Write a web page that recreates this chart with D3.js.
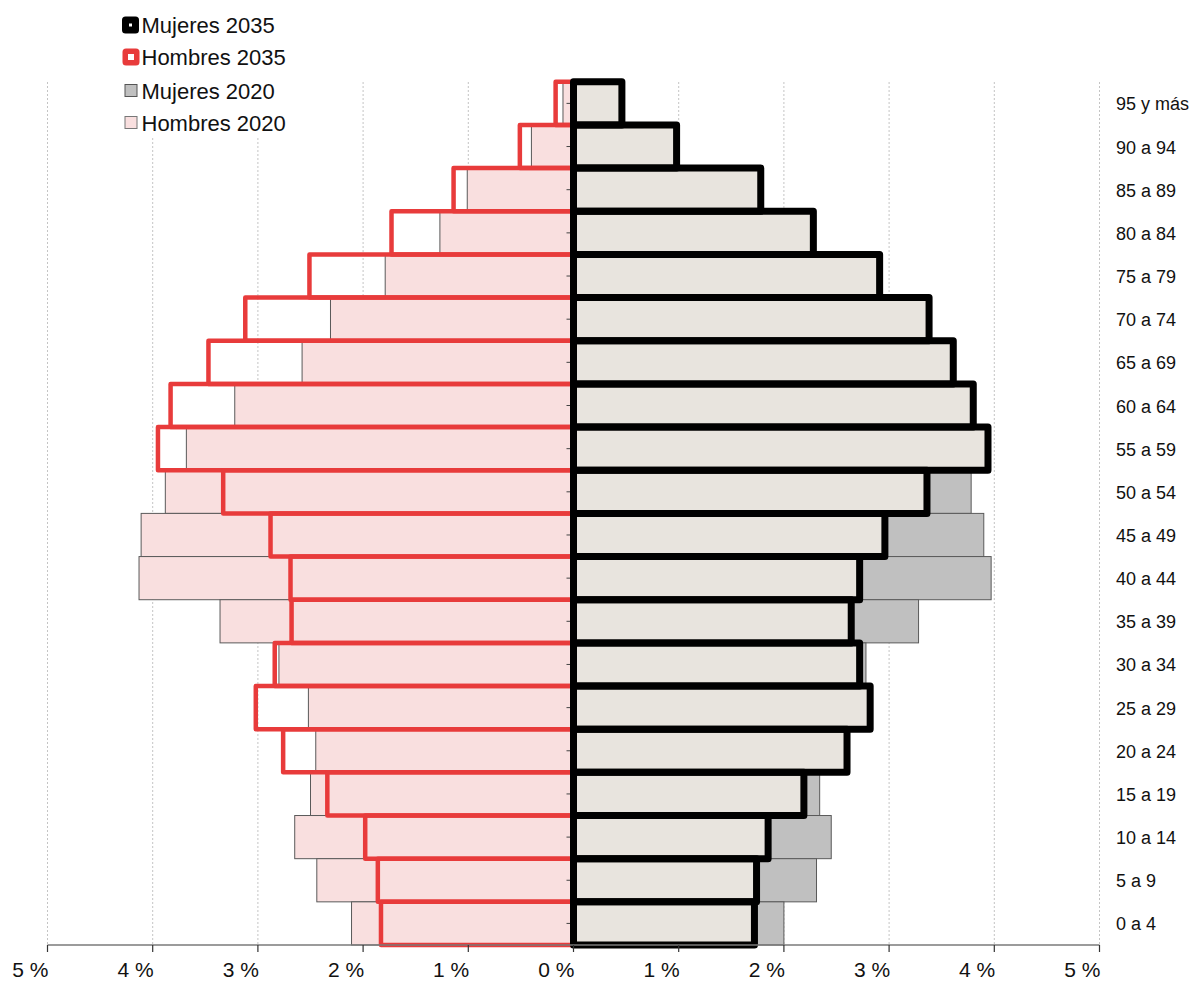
<!DOCTYPE html>
<html>
<head>
<meta charset="utf-8">
<script src="https://cdn.jsdelivr.net/npm/d3@7"></script>
<style>
  html, body { margin: 0; padding: 0; background: #fff; }
  svg { display: block; }
  text { font-family: "Liberation Sans", Arial, Helvetica, sans-serif; }
</style>
</head>
<body>
<svg id="chart" width="1194" height="981"></svg>
<script>
const ages = ["95 y más","90 a 94","85 a 89","80 a 84","75 a 79","70 a 74","65 a 69","60 a 64","55 a 59","50 a 54","45 a 49","40 a 44","35 a 39","30 a 34","25 a 29","20 a 24","15 a 19","10 a 14","5 a 9","0 a 4"];
const hombres2035 = [0.17,0.51,1.14,1.73,2.51,3.12,3.47,3.83,3.95,3.33,2.88,2.69,2.68,2.84,3.02,2.76,2.34,1.98,1.86,1.83];
const hombres2020 = [0.10,0.40,1.01,1.27,1.79,2.31,2.58,3.22,3.68,3.88,4.11,4.13,3.36,2.80,2.52,2.45,2.50,2.65,2.44,2.11];
const mujeres2035 = [0.46,0.98,1.78,2.28,2.91,3.38,3.61,3.80,3.94,3.36,2.96,2.72,2.64,2.72,2.82,2.60,2.19,1.85,1.74,1.72];
const mujeres2020 = [0.30,0.75,1.40,1.85,2.35,2.80,3.05,3.45,3.85,3.78,3.90,3.97,3.28,2.78,2.75,2.55,2.34,2.45,2.31,2.00];
const xTicks = [-5,-4,-3,-2,-1,0,1,2,3,4,5];
const legendLabels = ["Mujeres 2035","Hombres 2035","Mujeres 2020","Hombres 2020"];

const FONT = "'Liberation Sans', Arial, Helvetica, sans-serif";
const svg = d3.select("#chart");
const x = d3.scaleLinear().domain([-5,5]).range([47.5,1099.5]);
const y = d3.scaleBand().domain(ages).range([81.8,945]).padding(0);
const x0 = x(0);

// grid
svg.append("g").selectAll("line").data(xTicks.filter(d => d !== 0)).join("line")
  .attr("x1", d => x(d)).attr("x2", d => x(d))
  .attr("y1", 82).attr("y2", 945)
  .attr("stroke", "#c4c4c4").attr("stroke-width", 1).attr("stroke-dasharray", "2,2");

// Hombres 2020
svg.append("g").selectAll("rect").data(ages).join("rect")
  .attr("x", (d,i) => x(-hombres2020[i])).attr("y", d => y(d))
  .attr("width", (d,i) => x0 - x(-hombres2020[i])).attr("height", y.bandwidth())
  .attr("fill", "#f9dfdf").attr("stroke", "#5a5a5a").attr("stroke-width", 1);

// Mujeres 2020
svg.append("g").selectAll("rect").data(ages).join("rect")
  .attr("x", x0).attr("y", d => y(d))
  .attr("width", (d,i) => x(mujeres2020[i]) - x0).attr("height", y.bandwidth())
  .attr("fill", "#c0c0c0").attr("stroke", "#5a5a5a").attr("stroke-width", 1);

// Hombres 2035 outline
svg.append("g").selectAll("rect").data(ages).join("rect")
  .attr("x", (d,i) => x(-hombres2035[i])).attr("y", d => y(d))
  .attr("width", (d,i) => x0 - x(-hombres2035[i])).attr("height", y.bandwidth())
  .attr("fill", "none").attr("stroke", "#e83b3b").attr("stroke-width", 4.5)
  .attr("stroke-linejoin", "round");

// Mujeres 2035 fills
svg.append("g").selectAll("rect").data(ages).join("rect")
  .attr("x", x0).attr("y", d => y(d))
  .attr("width", (d,i) => x(mujeres2035[i]) - x0).attr("height", y.bandwidth())
  .attr("fill", "#e8e4de");

// small category ticks at centre
svg.append("g").selectAll("line").data(ages).join("line")
  .attr("x1", x0 - 7).attr("x2", x0)
  .attr("y1", d => y(d) + y.bandwidth()/2).attr("y2", d => y(d) + y.bandwidth()/2)
  .attr("stroke", "#444").attr("stroke-width", 1);

// Mujeres 2035 outlines
svg.append("g").selectAll("rect").data(ages).join("rect")
  .attr("x", x0).attr("y", d => y(d))
  .attr("width", (d,i) => x(mujeres2035[i]) - x0).attr("height", y.bandwidth())
  .attr("fill", "none").attr("stroke", "#000").attr("stroke-width", 7)
  .attr("stroke-linejoin", "round");

// x axis
const ax = svg.append("g").attr("transform", "translate(0,945)");
ax.append("line").attr("x1", x(-5)).attr("x2", x(5)).attr("y1", 0).attr("y2", 0)
  .attr("stroke", "#7a7a7a").attr("stroke-width", 1.5);
ax.selectAll("line.t").data(xTicks).join("line").attr("class","t")
  .attr("x1", d => x(d)).attr("x2", d => x(d)).attr("y1", 0).attr("y2", 7)
  .attr("stroke", "#333").attr("stroke-width", 1.2);
ax.selectAll("text").data(xTicks).join("text")
  .attr("x", d => x(d) + 1).attr("y", 32)
  .attr("text-anchor", "end").attr("font-size", 21).attr("fill", "#111")
  .attr("font-family", FONT)
  .text(d => Math.abs(d) + " %");

// y labels
svg.append("g").selectAll("text").data(ages).join("text")
  .attr("x", 1116).attr("y", d => y(d) + y.bandwidth()/2 + 7)
  .attr("font-size", 18).attr("fill", "#111")
  .attr("font-family", FONT)
  .text(d => d);

// legend
const lg = svg.append("g");
lg.append("rect").attr("x", 112).attr("y", 0).attr("width", 195).attr("height", 138).attr("fill", "#fff");
const ly = [25, 57, 90.5, 122.5];
lg.append("rect").attr("x", 122).attr("y", ly[0]-8.5).attr("width", 17).attr("height", 17).attr("rx", 3.5).attr("fill", "#000");
lg.append("rect").attr("x", 129).attr("y", ly[0]-1.5).attr("width", 3).attr("height", 3).attr("fill", "#fff");
lg.append("rect").attr("x", 122.5).attr("y", ly[1]-8.5).attr("width", 17).attr("height", 17).attr("rx", 3.5).attr("fill", "#e83b3b");
lg.append("rect").attr("x", 128).attr("y", ly[1]-3).attr("width", 6).attr("height", 6).attr("fill", "#fff");
lg.append("rect").attr("x", 125).attr("y", ly[2]-6).attr("width", 12).attr("height", 12).attr("fill", "#c0c0c0").attr("stroke", "#555").attr("stroke-width", 1);
lg.append("rect").attr("x", 125).attr("y", ly[3]-6).attr("width", 12).attr("height", 12).attr("fill", "#f9dfdf").attr("stroke", "#777").attr("stroke-width", 1);
lg.selectAll("text").data(legendLabels).join("text")
  .attr("x", 141.5).attr("y", (d,i) => ly[i] + 8)
  .attr("font-size", 22).attr("fill", "#111")
  .attr("font-family", FONT)
  .text(d => d);
</script>
</body>
</html>
